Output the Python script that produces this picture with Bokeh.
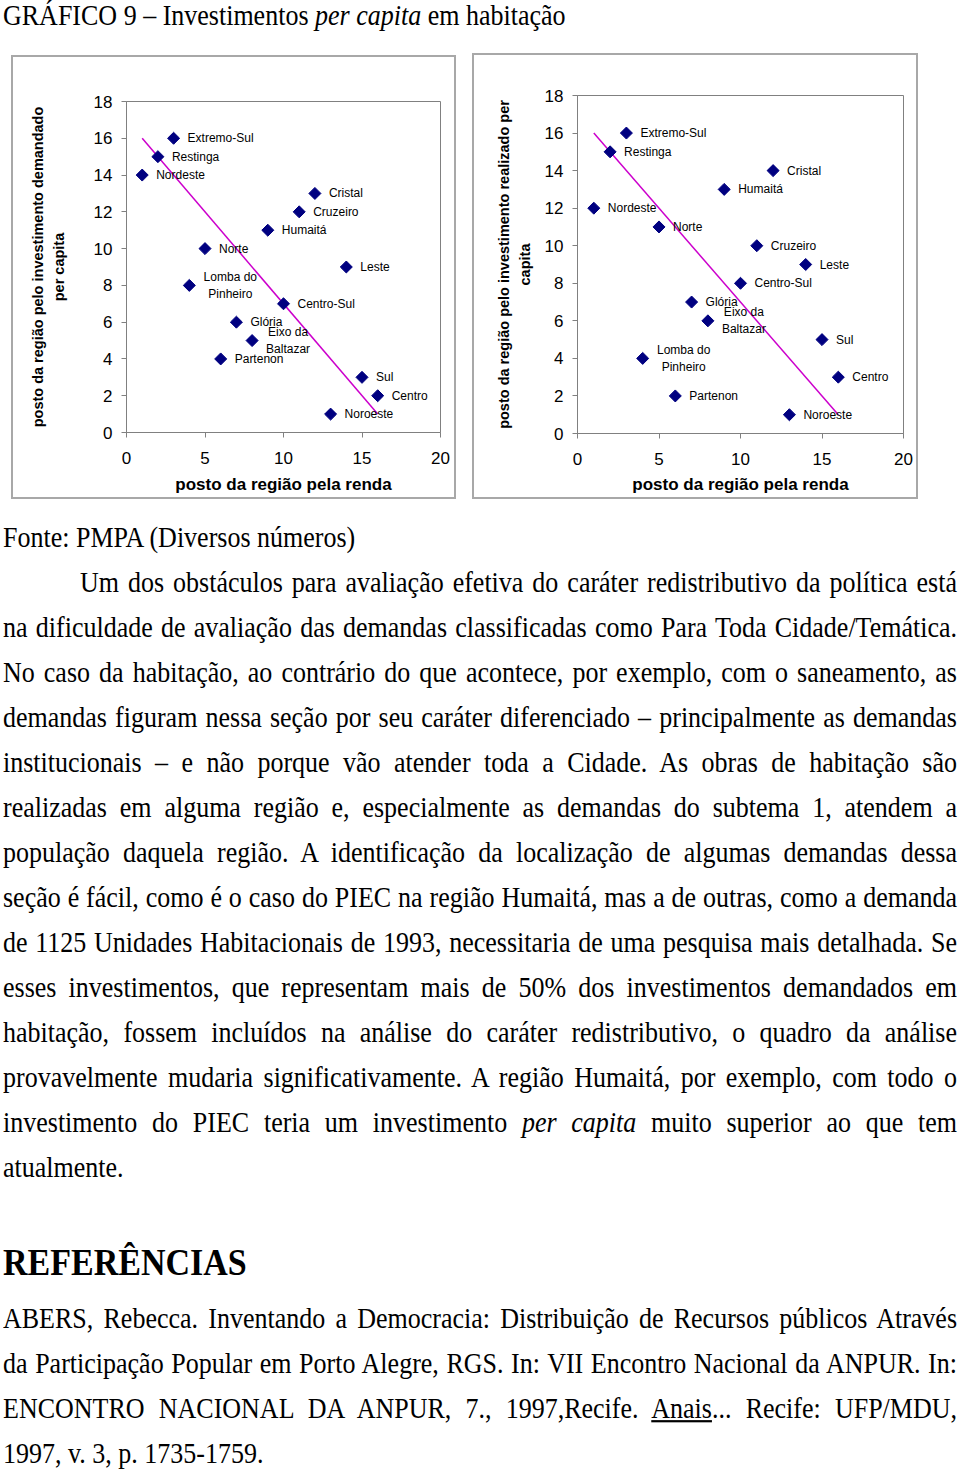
import math
from bokeh.plotting import figure
from bokeh.models import ColumnDataSource, Div, Range1d, FixedTicker
from bokeh.layouts import column, row
from bokeh.embed import file_html
from bokeh.resources import INLINE
from bokeh.core.properties import value

# ---------------- data ----------------
regions = ["Extremo-Sul", "Restinga", "Nordeste", "Cristal", "Cruzeiro", "Humaitá",
           "Norte", "Leste", "Lomba do\nPinheiro", "Centro-Sul", "Glória",
           "Eixo da\nBaltazar", "Partenon", "Sul", "Centro", "Noroeste"]
renda_rank = [3, 2, 1, 12, 11, 9, 5, 14, 4, 10, 7, 8, 6, 15, 16, 13]
demandado_rank = [16, 15, 14, 13, 12, 11, 10, 9, 8, 7, 6, 5, 4, 3, 2, 1]
realizado_rank = [16, 15, 12, 14, 10, 13, 11, 9, 4, 8, 7, 6, 2, 5, 3, 1]
trend_x = [1, 16]
trend_y = [16, 1]
x_ticks = [0, 5, 10, 15, 20]
y_ticks = [0, 2, 4, 6, 8, 10, 12, 14, 16, 18]

x_title = "posto da região pela renda"
y_title_left = "posto da região pelo investimento demandado\nper capita"
y_title_right = "posto da região pelo investimento realizado per\ncapita"

title_html = "GRÁFICO 9 – Investimentos <i>per capita</i> em habitação"
source_text = "Fonte: PMPA (Diversos números)"
paragraph_lines = [
    "Um dos obstáculos para avaliação efetiva do caráter redistributivo da política está",
    "na dificuldade de avaliação das demandas classificadas como Para Toda Cidade/Temática.",
    "No caso da habitação, ao contrário do que acontece, por exemplo, com o saneamento, as",
    "demandas figuram nessa seção por seu caráter diferenciado – principalmente as demandas",
    "institucionais – e não porque vão atender toda a Cidade. As obras de habitação são",
    "realizadas em alguma região e, especialmente as demandas do subtema 1, atendem a",
    "população daquela região. A identificação da localização de algumas demandas dessa",
    "seção é fácil, como é o caso do PIEC na região Humaitá, mas a de outras, como a demanda",
    "de 1125 Unidades Habitacionais de 1993, necessitaria de uma pesquisa mais detalhada. Se",
    "esses investimentos, que representam mais de 50% dos investimentos demandados em",
    "habitação, fossem incluídos na análise do caráter redistributivo, o quadro da análise",
    "provavelmente mudaria significativamente. A região Humaitá, por exemplo, com todo o",
    "investimento do PIEC teria um investimento <i>per capita</i> muito superior ao que tem",
    "atualmente.",
]
references_title = "REFERÊNCIAS"
reference_lines = [
    "ABERS, Rebecca. Inventando a Democracia: Distribuição de Recursos públicos Através",
    "da Participação Popular em Porto Alegre, RGS. In: VII Encontro Nacional da ANPUR. In:",
    "ENCONTRO NACIONAL DA ANPUR, 7., 1997,Recife. <u>Anais</u>... Recife: UFP/MDU,",
    "1997, v. 3, p. 1735-1759.",
]

# ---------------- styles ----------------
label_offsets = {"Lomba do\nPinheiro": 41, "Eixo da\nBaltazar": 36}
SANS = "Liberation Sans"
SERIF = "'Liberation Serif', 'Times New Roman', serif"
STRETCH = 1.10


def build_chart(y_vals, y_title, cfg):
    p = figure(width=cfg["w"], height=cfg["h"],
               x_range=Range1d(0, 20), y_range=Range1d(0, 18),
               output_backend="svg", toolbar_location=None, tools="",
               min_border_left=cfg["ml"], min_border_right=cfg["mr"],
               min_border_top=cfg["mt"], min_border_bottom=cfg["mb"])
    p.title.visible = False
    p.margin = 0
    p.styles = {"border": "2px solid #a8a8a8"}
    p.background_fill_color = "white"
    p.border_fill_color = "white"
    p.outline_line_color = "#808080"
    p.outline_line_width = 1
    p.xgrid.visible = False
    p.ygrid.visible = False
    for ax in (p.xaxis[0], p.yaxis[0]):
        ax.axis_line_color = "#808080"
        ax.major_tick_line_color = "#808080"
        ax.major_tick_out = 5
        ax.major_tick_in = 0
        ax.minor_tick_line_color = None
        ax.major_label_text_font = SANS
        ax.major_label_text_font_size = "17px"
        ax.major_label_text_color = "black"
        ax.axis_label_text_font = SANS
        ax.axis_label_text_font_style = "bold"
        ax.axis_label_text_color = "black"
    p.xaxis.ticker = FixedTicker(ticks=x_ticks)
    p.yaxis.ticker = FixedTicker(ticks=y_ticks)
    p.xaxis.axis_label = x_title
    p.xaxis.axis_label_text_font_size = "17px"
    p.xaxis.major_label_standoff = 14
    p.xaxis.axis_label_standoff = cfg["xts"]
    p.yaxis.axis_label = y_title
    p.yaxis.axis_label_text_font_size = "14.5px"
    p.yaxis.axis_label_text_line_height = 1.3
    p.yaxis.major_label_standoff = 9
    p.yaxis.axis_label_standoff = cfg["yts"]

    p.line(trend_x, trend_y, line_color="#CC00CC", line_width=1.5)

    src = ColumnDataSource(dict(x=renda_rank, y=y_vals, label=regions))
    p.scatter("x", "y", source=src, marker="square", size=8.5, angle=math.pi / 4,
              fill_color="#000080", line_color="#000080")

    single = [i for i, r in enumerate(regions) if "\n" not in r]
    multi = [i for i, r in enumerate(regions) if "\n" in r]
    s1 = ColumnDataSource(dict(x=[renda_rank[i] for i in single],
                               y=[y_vals[i] for i in single],
                               label=[regions[i] for i in single]))
    p.text("x", "y", text="label", source=s1, x_offset=14,
           text_align="left", text_baseline="middle",
           text_font=value(SANS), text_font_size="12px", text_color="black")
    s2 = ColumnDataSource(dict(x=[renda_rank[i] for i in multi],
                               y=[y_vals[i] for i in multi],
                               label=[regions[i] for i in multi],
                               off=[label_offsets[regions[i]] for i in multi]))
    p.text("x", "y", text="label", source=s2, x_offset="off",
           text_align="center", text_baseline="middle", text_line_height=1.2,
           text_font=value(SANS), text_font_size="12px", text_color="black")
    return p


p1 = build_chart(demandado_rank, y_title_left,
                 dict(w=445, h=444, ml=113, mr=18, mt=44, mb=69, yts=24, xts=8))
p2 = build_chart(realizado_rank, y_title_right,
                 dict(w=446, h=446, ml=103, mr=17, mt=40, mb=68, yts=9, xts=7))


def line_div(html, baseline, left=3, width=954, size=26, lh=30, justify=False, bold=False):
    boff = (lh - 1.107 * size) / 2 + 0.891 * size
    top = baseline - boff
    style = (f"position:absolute;left:{left}px;top:{top:.1f}px;width:{width}px;"
             f"font-family:{SERIF};font-size:{size}px;line-height:{lh}px;"
             f"color:black;white-space:nowrap;"
             f"transform:scaleY({STRETCH});transform-origin:0px {boff:.1f}px;")
    if bold:
        style += "font-weight:bold;"
    if justify:
        style += "text-align:justify;text-align-last:justify;"
    else:
        style += "text-align:left;"
    return f'<div style="{style}">{html}</div>'


title_div = Div(
    text=f'<div style="position:relative;width:960px;height:53px;">'
         f'{line_div(title_html, 25.5)}</div>',
    width=960, height=53, margin=0)

body_parts = [line_div(source_text, 49)]
for i, ln in enumerate(paragraph_lines):
    bl = 93.5 + 45 * i
    if i == 0:
        body_parts.append(line_div(ln, bl, left=80, width=877, justify=True))
    elif i == len(paragraph_lines) - 1:
        body_parts.append(line_div(ln, bl))
    else:
        body_parts.append(line_div(ln, bl, justify=True))
body_parts.append(line_div(references_title, 776.5, size=34, lh=40, bold=True))
for i, ln in enumerate(reference_lines):
    bl = 829.5 + 45 * i
    body_parts.append(line_div(ln, bl, justify=(i < len(reference_lines) - 1)))

body_div = Div(
    text='<div style="position:relative;width:960px;height:970px;">' + "".join(body_parts) + "</div>",
    width=960, height=970, margin=0)

left_box = column(p1, margin=(2, 0, 0, 11), spacing=0)
right_box = column(p2, margin=(0, 0, 0, 16), spacing=0)
charts = row(left_box, right_box, margin=0, spacing=0)
layout = column(title_div, charts, body_div, margin=0, spacing=0)

open("out.html", "w").write(file_html(layout, INLINE))
